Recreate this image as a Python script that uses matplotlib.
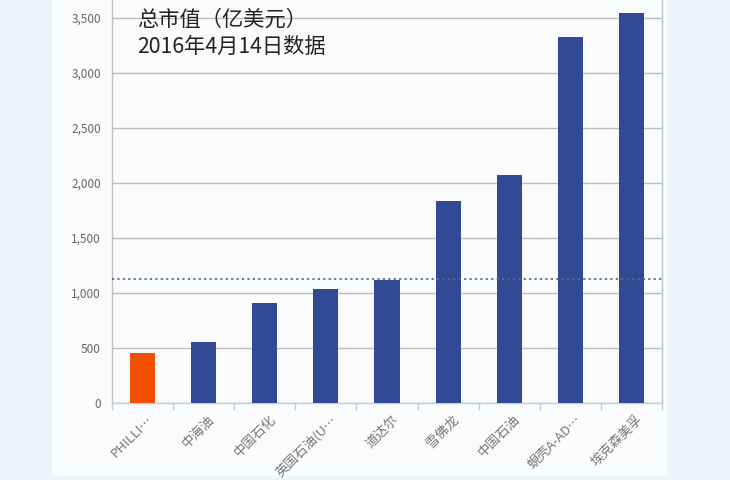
import matplotlib
matplotlib.use("Agg")
import matplotlib.pyplot as plt
from matplotlib.patches import Rectangle

categories = ["PHILLI…", "中海油", "中国石化", "英国石油(U…", "道达尔", "雪佛龙", "中国石油", "蜆壳A-AD…", "埃克森美孚"]
values = [455, 555, 909, 1036, 1118, 1836, 2073, 3327, 3545]
highlight = [True, False, False, False, False, False, False, False, False]
ref_value = 1127
yticks = [0, 500, 1000, 1500, 2000, 2500, 3000, 3500]
ytick_labels = ["0", "500", "1,000", "1,500", "2,000", "2,500", "3,000", "3,500"]
title_lines = ["总市值（亿美元）", "2016年4月14日数据"]

plt.rcParams['font.family'] = ['Noto Sans CJK SC', 'DejaVu Sans']

W, H = 730, 480
fig = plt.figure(figsize=(W / 100, H / 100), dpi=100)
fig.patch.set_facecolor("#EEF3FA")
panel = Rectangle((52 / W, 4 / H), (667 - 52) / W, 1 - 4 / H,
                  transform=fig.transFigure, facecolor="#F9FBFD",
                  edgecolor="none", zorder=-10)
fig.add_artist(panel)

ax = fig.add_axes([112 / W, (H - 403) / H, 550 / W, 403 / H])
ax.set_zorder(1)
ax.set_facecolor("none")
x = list(range(len(categories)))
colors = ["#F05000" if h else "#324A94" for h in highlight]
ax.bar(x, values, width=0.41, color=colors, zorder=3)
ax.axhline(ref_value, color="#5B6B84", linestyle=(0, (1.2, 1.8)), linewidth=1.3, zorder=4)

ax.set_xlim(-0.5, len(categories) - 0.5)
ax.set_ylim(0, 3664)
ax.set_yticks(yticks)
ax.set_yticklabels(ytick_labels)
ax.grid(axis="y", color="#BDBDBD", linewidth=1, zorder=1)
ax.tick_params(axis="y", length=0, labelsize=8.5, labelcolor="#666666", pad=8)

ax.set_xticks([i - 0.5 for i in range(len(categories) + 1)], minor=False)
ax.set_xticklabels([])
ax.tick_params(axis="x", which="major", length=5, color="#C0D0E0", width=1)
for i, lab in enumerate(categories):
    ax.annotate(lab, xy=(i, 0), xycoords=("data", "axes fraction"),
                xytext=(3, -7), textcoords="offset points",
                rotation=45, ha="right", va="top", rotation_mode="anchor",
                fontsize=9.5, color="#777777")

for s in ["left", "right"]:
    ax.spines[s].set_color("#C0C0C0")
    ax.spines[s].set_linewidth(1)
ax.spines["top"].set_visible(False)
ax.spines["bottom"].set_color("#C0D0E0")
ax.spines["bottom"].set_linewidth(1)

fig.text(137 / W, 1 - 20 / H, title_lines[0], fontsize=15.3, color="#222222", va="center", ha="left")
fig.text(137 / W, 1 - 47 / H, title_lines[1], fontsize=15.3, color="#222222", va="center", ha="left")

fig.savefig("out.png", dpi=100, facecolor=fig.get_facecolor())
